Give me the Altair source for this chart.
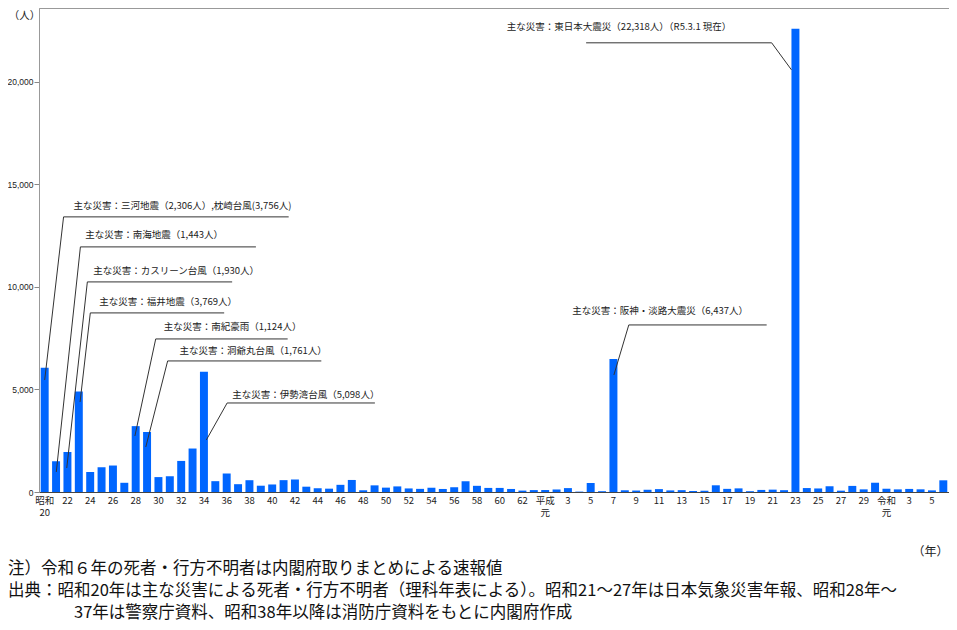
import json
import altair as alt
import pandas as pd

FONT = "Noto Sans CJK JP"

# categories: 昭和20年(1945) ... 令和6年(2024)
YEARS = ([f"S{n}" for n in range(20, 64)] +
         [f"H{n}" for n in range(1, 31)] +
         [f"R{n}" for n in range(1, 7)])

VALUES = [6062, 1504, 1950, 4897, 975, 1210, 1291, 449, 3212, 2926,
          727, 765, 1515, 2120, 5868, 528, 902, 381, 575, 307,
          367, 578, 607, 259, 183, 163, 350, 587, 85, 324,
          213, 273, 174, 153, 208, 148, 232, 524, 301, 199,
          199, 148, 69, 93, 96, 123, 190, 19, 438, 39,
          6482, 84, 71, 109, 141, 78, 90, 48, 62, 327,
          153, 177, 39, 101, 115, 89, 22585, 192, 173, 280,
          65, 297, 129, 452, 159, 128, 150, 131, 80, 570]

TICK_CATS = ["S20", "S22", "S24", "S26", "S28", "S30", "S32", "S34", "S36", "S38",
             "S40", "S42", "S44", "S46", "S48", "S50", "S52", "S54", "S56", "S58",
             "S60", "S62", "H1", "H3", "H5", "H7", "H9", "H11", "H13", "H15",
             "H17", "H19", "H21", "H23", "H25", "H27", "H29", "R1", "R3", "R5"]
TICK_TEXT = [["昭和", "20"], "22", "24", "26", "28", "30", "32", "34", "36", "38",
             "40", "42", "44", "46", "48", "50", "52", "54", "56", "58",
             "60", "62", ["平成", "元"], "3", "5", "7", "9", "11", "13", "15",
             "17", "19", "21", "23", "25", "27", "29", ["令和", "元"], "3", "5"]

Y_TICKS = [0, 5000, 10000, 15000, 20000]

# annotations (x in bar-index units, y in persons)
ANN_TEXT = ["主な災害：三河地震（2,306人）,枕崎台風(3,756人)",
            "主な災害：南海地震（1,443人）",
            "主な災害：カスリーン台風（1,930人）",
            "主な災害：福井地震（3,769人）",
            "主な災害：南紀豪雨（1,124人）",
            "主な災害：洞爺丸台風（1,761人）",
            "主な災害：伊勢湾台風（5,098人）",
            "主な災害：阪神・淡路大震災（6,437人）",
            "主な災害：東日本大震災（22,318人）（R5.3.1 現在）"]
ANN_TX = [2.53, 3.57, 4.27, 4.80, 10.46, 11.86, 16.48, 46.38, 40.63]
ANN_TY = [13951, 12537, 10780, 9268, 8049, 6878, 4732, 8829, 22683]
LINE_X1 = [1.66, 3.14, 3.75, 4.01, 9.76, 10.81, 16.04, 51.35, 47.60]
LINE_X2 = [21.45, 18.57, 16.48, 15.78, 21.36, 24.32, 29.03, 63.47, 63.91]
LINE_Y = [13415, 11951, 10244, 8732, 7463, 6390, 4341, 8146, 21902]
LEAD_X1 = [1.66, 3.14, 3.75, 4.01, 9.76, 10.81, 16.04, 51.35, 63.91]
LEAD_Y1 = LINE_Y
LEAD_X2 = [0.0, 1.02, 1.94, 3.11, 7.93, 8.89, 14.21, 50.04, 65.65]
LEAD_Y2 = [5463, 976, 1171, 4390, 2732, 2195, 2537, 5707, 20585]

NOTE_1 = "注）令和６年の死者・行方不明者は内閣府取りまとめによる速報値"
NOTE_2 = "出典：昭和20年は主な災害による死者・行方不明者（理科年表による）。昭和21～27年は日本気象災害年報、昭和28年～"
NOTE_3 = "37年は警察庁資料、昭和38年以降は消防庁資料をもとに内閣府作成"

df = pd.DataFrame({"year": YEARS, "value": VALUES})
ann = pd.DataFrame({"text": ANN_TEXT, "tx": ANN_TX, "ty": ANN_TY,
                    "lx1": LINE_X1, "lx2": LINE_X2, "ly": LINE_Y,
                    "dx1": LEAD_X1, "dy1": LEAD_Y1, "dx2": LEAD_X2, "dy2": LEAD_Y2})

W, H = 910, 484
yscale = alt.Scale(domain=[0, 23600], nice=False, zero=True)
yaxis = alt.Axis(values=Y_TICKS, labelExpr="format(datum.value, ',')", grid=False,
                 title="（人）", titleAngle=0,
                 titleX=-15, titleY=7, titleAlign="center", titleBaseline="middle",
                 titleFontWeight="normal", titleFontSize=10.5, titleColor="#222",
                 labelFontSize=8.5, labelColor="#222", labelPadding=1, tickSize=5,
                 tickColor="#888", domainColor="#999", labelFont="Liberation Sans")

label_expr = f"{json.dumps(TICK_TEXT, ensure_ascii=False)}[indexof({json.dumps(TICK_CATS)}, datum.value)]"

bars = alt.Chart(df).mark_bar(color="#0066ff").encode(
    x=alt.X("year:N", sort=YEARS,
            scale=alt.Scale(paddingInner=0.3, paddingOuter=0.15),
            axis=alt.Axis(values=TICK_CATS, labelExpr=label_expr, labelAngle=0,
                          ticks=False, labelFontSize=9.5, labelColor="#222",
                          labelLineHeight=12, labelPadding=3, domainColor="#444",
                          title="（年）", titleX=891, titleY=59, titleAlign="center",
                          titleBaseline="middle", titleFontWeight="normal",
                          titleFontSize=12, titleColor="#222")),
    y=alt.Y("value:Q", scale=yscale, axis=yaxis),
)

xq = alt.Scale(domain=[-0.5, 79.5], nice=False, zero=False)

ann_text = alt.Chart(ann).mark_text(align="left", baseline="middle", fontSize=9.5,
                                    color="#222", font=FONT).encode(
    x=alt.X("tx:Q", scale=xq, axis=None),
    y=alt.Y("ty:Q", scale=yscale, axis=None),
    text="text:N",
)
ann_line = alt.Chart(ann).mark_rule(color="#333", strokeWidth=1).encode(
    x=alt.X("lx1:Q", scale=xq, axis=None),
    x2="lx2:Q",
    y=alt.Y("ly:Q", scale=yscale, axis=None),
)
ann_lead = alt.Chart(ann).mark_rule(color="#333", strokeWidth=1).encode(
    x=alt.X("dx1:Q", scale=xq, axis=None),
    x2="dx2:Q",
    y=alt.Y("dy1:Q", scale=yscale, axis=None),
    y2="dy2:Q",
)
annotations = alt.layer(ann_text, ann_line, ann_lead)


def note(txt, x, y):
    return alt.Chart(pd.DataFrame({"t": [txt]})).mark_text(
        align="left", baseline="middle", fontSize=16.5, color="#111", font=FONT).encode(
        text="t:N", x=alt.value(x), y=alt.value(y))


notes = alt.layer(note(NOTE_1, -31, 561), note(NOTE_2, -31, 583), note(NOTE_3, 35, 605))

chart = alt.layer(bars, annotations, notes).resolve_scale(x="independent").resolve_axis(
    y="independent").properties(
    width=W, height=H,
    autosize=alt.AutoSizeParams(type="none"),
    padding={"left": 31, "top": 0, "right": 0, "bottom": 130},
).configure(font=FONT).configure_view(stroke="#999", strokeWidth=1)

chart.save("out.html", embed_options={"renderer": "svg", "actions": False})
